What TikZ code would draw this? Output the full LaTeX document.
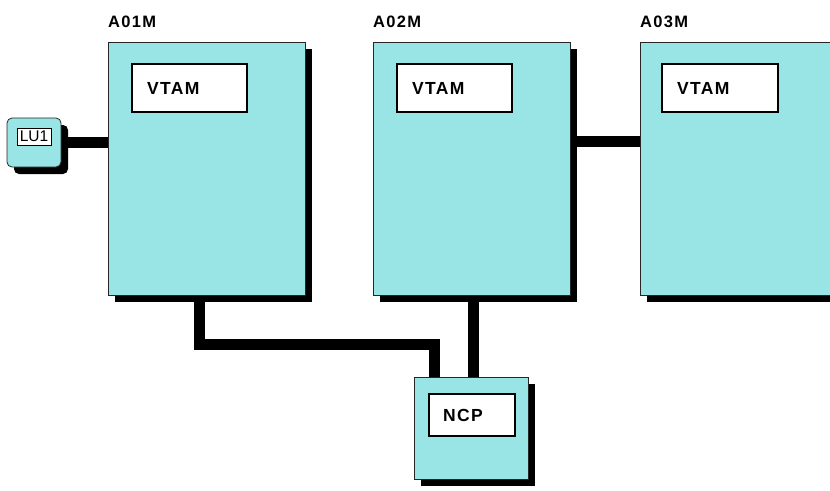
\documentclass[tikz,border=0pt]{standalone}
\usepackage{fontspec}
\setmainfont{Liberation Sans}
\newfontfamily\lblfont[LetterSpace=8]{Liberation Sans}
\usetikzlibrary{shadows,backgrounds}
\definecolor{boxcyan}{RGB}{153,229,229}
\tikzset{
  host/.style={draw=black!85, line width=0.8pt, fill=boxcyan, inner sep=0pt,
    drop shadow={shadow xshift=7pt, shadow yshift=-7pt, fill=black, opacity=1}},
  subsys/.style={draw=black, line width=1.2pt, fill=white, inner xsep=15pt, inner ysep=0pt,
    align=left, font=\lblfont\bfseries\fontsize{17.5}{19}\selectfont},
  title/.style={anchor=base west, inner sep=0pt, font=\lblfont\bfseries\fontsize{16.5}{18}\selectfont},
  link/.style={line width=11pt, black}
}
\begin{document}
\begin{tikzpicture}[x=1pt,y=-1pt]
\useasboundingbox (0,0) rectangle (830,490);
\begin{scope}
\clip (0,0) rectangle (830,490);
\node[host, minimum width=197pt, minimum height=253pt] (a01m) at (206.5,168.5) {};
\node[host, minimum width=197pt, minimum height=253pt] (a02m) at (471.5,168.5) {};
\node[host, minimum width=197pt, minimum height=253pt] (a03m) at (738.5,168.5) {};
\node[host, rounded corners=5pt, minimum width=54pt, minimum height=49pt] (lu1) at (34,142.5) {};
\node[host, minimum width=114pt, minimum height=102pt] (ncp) at (471,428) {};
\end{scope}
\begin{pgfonlayer}{background}
\draw[link] (lu1.east) -- (lu1.east -| a01m.west);
\draw[link] ([yshift=-100pt]a02m.north east) -- ([yshift=-100pt]a03m.north west);
\draw[link] ([xshift=-7pt]a01m.south) -- ++(0,49.5) -| ([xshift=-37pt]ncp.north);
\draw[link] ([xshift=2pt]a02m.south) -- ([xshift=2pt]a02m.south |- ncp.north);
\end{pgfonlayer}
\node[subsys, minimum height=48pt, text width=85pt] (vtam1) at (189.5,88) {VTAM};
\node[subsys, minimum height=48pt, text width=85pt] (vtam2) at (454.5,88) {VTAM};
\node[subsys, minimum height=48pt, text width=86pt] (vtam3) at (720,88) {VTAM};
\node[subsys, minimum height=42pt, text width=58pt, inner xsep=14pt] (ncpl) at (472,415) {NCP};
\node[draw=black, line width=0.6pt, fill=white, inner sep=0pt, minimum width=34pt, minimum height=17pt,
  font=\fontsize{15.5}{16}\selectfont] (lu1l) at (34,136.5) {LU1};
\node[title] (t1) at (108,27) {A01M};
\node[title] (t2) at (373,27) {A02M};
\node[title] (t3) at (640,27) {A03M};
\end{tikzpicture}
\end{document}
